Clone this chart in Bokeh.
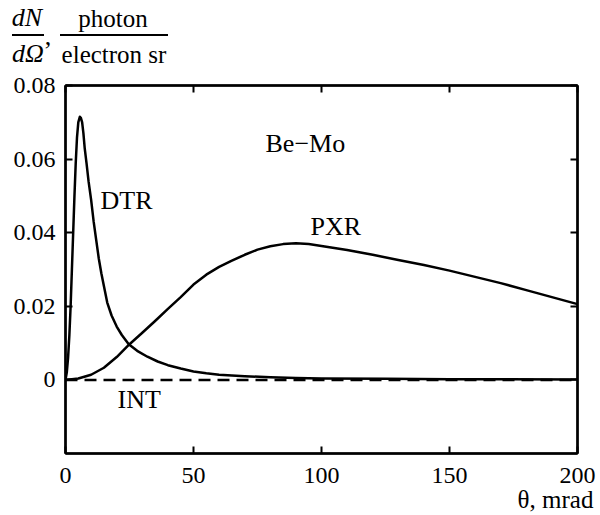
import json
from bokeh.plotting import figure
from bokeh.layouts import column
from bokeh.models import (LinearAxis, FixedTicker, CustomJSTickFormatter,
                          Label, Range1d, Div)
from bokeh.embed import file_html
from bokeh.resources import INLINE

# ---- data ----
dtr_x = [0, 0.5, 1.0, 1.5, 2.0, 2.5, 3.0, 3.5, 4.0, 4.5, 5.0, 5.6, 6.0, 6.5,
         7.0, 7.5, 8.2, 9.0, 10.0, 11.0, 12.0, 13.0, 14.0, 15.0, 16.3, 18.0,
         20.0, 22.0, 24.7, 28.0, 32.0, 36.0, 40.0, 45.0, 50.0, 55.0, 60.0,
         70.0, 80.0, 90.0, 100.0, 125.0, 150.0, 200.0]
dtr_y = [0, 0.002, 0.006, 0.012, 0.020, 0.030, 0.040, 0.050, 0.059, 0.066,
         0.070, 0.0715, 0.0712, 0.0700, 0.067, 0.063, 0.059, 0.054, 0.049,
         0.043, 0.038, 0.033, 0.029, 0.0255, 0.021, 0.0175, 0.0145, 0.0122,
         0.0097, 0.0079, 0.0063, 0.0050, 0.0040, 0.0031, 0.0023, 0.0018,
         0.0014, 0.0010, 0.0007, 0.0005, 0.0004, 0.0003, 0.0002, 0.0001]

pxr_x = [0, 5, 10, 15, 20, 25, 30, 35, 40, 45, 50, 55, 60, 65, 70, 75, 80,
         85, 90, 95, 100, 110, 120, 130, 140, 150, 160, 170, 180, 190, 200]
pxr_y = [0, 0.0004, 0.0014, 0.0033, 0.0062, 0.0097, 0.0128, 0.0160, 0.0193,
         0.0225, 0.0259, 0.0286, 0.0307, 0.0324, 0.0340, 0.0354, 0.0363,
         0.0369, 0.0371, 0.0369, 0.0364, 0.0353, 0.0340, 0.0326, 0.0312,
         0.0297, 0.0280, 0.0263, 0.0244, 0.0225, 0.0206]

int_x = [0, 50, 100, 150, 200]
int_y = [0, 0, 0, 0, 0]

x_ticks = [0, 50, 100, 150, 200]
y_ticks = [0, 0.02, 0.04, 0.06, 0.08]
x_title = "\u03b8, mrad"

FONT = "Liberation Serif"
W = 600
FIX = 9  # renderer places alphabetic baselines ~9px low at these sizes

# ---------------- header: y-axis quantity (fraction), as HTML ----------------
def box(text, left, top, width, size, italic=False):
    st = ("position:absolute;left:%dpx;top:%dpx;width:%dpx;text-align:center;"
          "font-family:'%s';font-size:%dpx;line-height:%dpx;white-space:nowrap;"
          "color:black;%s" % (left, top, width, FONT, size, size,
                              "font-style:italic;" if italic else ""))
    return '<div style="%s">%s</div>' % (st, text)


def bar(left, width, top):
    return ('<div style="position:absolute;left:%dpx;top:%dpx;width:%dpx;'
            'height:2px;background:black;"></div>' % (left, top, width))


html = ('<div style="position:relative;width:%dpx;height:70px;margin:0;'
        'padding:0;">' % W
        + box("dN", 0, 5, 54, 26, italic=True)
        + box("d\u03a9", 1, 41, 54, 26, italic=True)
        + box(",", 41, 24, 14, 26)
        + box("photon", 53, 6, 120, 25)
        + box("electron sr", 54, 42, 120, 25)
        + bar(12, 32, 34) + bar(60, 108, 34)
        + '</div>')
head = Div(text=html, width=W, height=70, margin=0)

# ---------------- main chart ----------------
p = figure(width=W, height=445, output_backend="svg", toolbar_location=None,
           x_range=Range1d(0, 200), y_range=Range1d(-0.02, 0.08),
           min_border_left=65, min_border_right=23, min_border_top=15,
           min_border_bottom=60)
p.grid.visible = False
p.background_fill_color = "white"
p.border_fill_color = "white"
p.outline_line_color = "black"
p.outline_line_width = 2

fmt = CustomJSTickFormatter(code="return tick == 0 ? '0' : tick.toFixed(2);")
blank = CustomJSTickFormatter(code="return '';")


def style(ax, ticks, labels=True, formatter=None):
    ax.ticker = FixedTicker(ticks=ticks)
    ax.axis_line_color = "black"
    ax.axis_line_width = 2.5
    ax.major_tick_in = 7
    ax.major_tick_out = 0
    ax.major_tick_line_width = 2
    ax.minor_tick_line_color = None
    if formatter is not None:
        ax.formatter = formatter
    if labels:
        ax.major_label_text_font = FONT
        ax.major_label_text_font_size = "24px"
        ax.major_label_text_color = "black"
    else:
        ax.major_label_text_font_size = "0px"
        ax.major_label_standoff = 0


style(p.xaxis[0], x_ticks)
p.xaxis[0].major_label_standoff = 14
style(p.yaxis[0], y_ticks, formatter=fmt)
p.yaxis[0].major_label_standoff = 10

right = LinearAxis()
style(right, y_ticks, labels=False, formatter=blank)
p.add_layout(right, "right")
top = LinearAxis()
style(top, x_ticks, labels=False, formatter=blank)
p.add_layout(top, "above")

# page-pixel -> data helpers (annotation placement only)
FL, FR, FT, FB = 65, 577, 85, 455


def px(v):
    return 0 + (v - FL) * 200 / (FR - FL)


def py(v):
    return -0.02 + (FB - v) * 0.1 / (FB - FT)


# second, line-less axis below carrying the x quantity name
xname = LinearAxis(ticker=FixedTicker(ticks=[px(555)]),
                   formatter=CustomJSTickFormatter(
                       code="return %s;" % json.dumps(x_title)),
                   axis_line_color=None, major_tick_line_color=None,
                   minor_tick_line_color=None, major_tick_in=0,
                   major_tick_out=0, major_label_standoff=0,
                   major_label_text_font=FONT,
                   major_label_text_font_size="25px",
                   major_label_text_color="black")
p.add_layout(xname, "below")

p.line(dtr_x, dtr_y, line_color="black", line_width=2.5, line_join="round")
p.line(pxr_x, pxr_y, line_color="black", line_width=2.5, line_join="round")
p.line(int_x, int_y, line_color="black", line_width=2.5, line_dash="12 7")


def lab(text, x, y):
    p.add_layout(Label(x=px(x), y=py(y - FIX), text=text, text_font=FONT,
                       text_font_size="26px", text_align="left",
                       text_baseline="alphabetic", text_color="black"))


lab("DTR", 100, 210)
lab("PXR", 310, 236)
lab("Be\u2212Mo", 265, 152)
lab("INT", 117, 410)

layout = column(head, p, spacing=0)
open("out.html", "w").write(file_html(layout, INLINE))
